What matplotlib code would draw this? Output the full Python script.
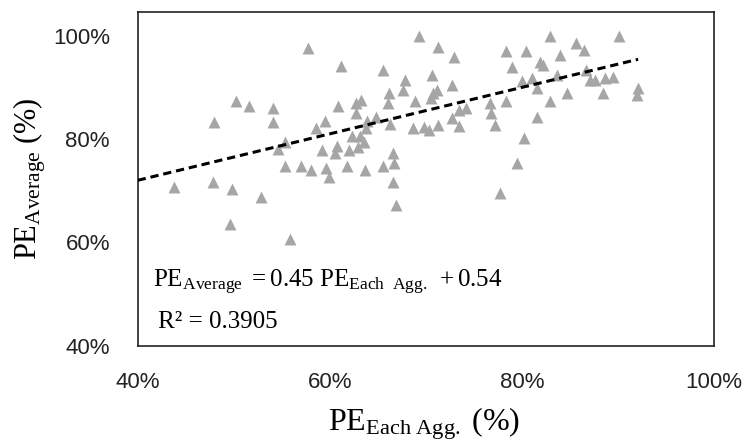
import matplotlib
matplotlib.use("Agg")
import matplotlib.pyplot as plt
import numpy as np

plt.rcParams["mathtext.fontset"] = "custom"
plt.rcParams["mathtext.rm"] = "Liberation Serif"
plt.rcParams["mathtext.it"] = "Liberation Serif:italic"

# PE of each aggregate (x) vs average PE (y), fractions
pe_each = [0.438, 0.479, 0.478, 0.498, 0.496, 0.502, 0.516, 0.528, 0.541, 0.541,
           0.546, 0.553, 0.553, 0.559, 0.570, 0.577, 0.580, 0.586, 0.595, 0.592,
           0.596, 0.599, 0.605, 0.607, 0.609, 0.612, 0.618, 0.620, 0.623, 0.627,
           0.627, 0.631, 0.629, 0.633, 0.636, 0.637, 0.638, 0.639, 0.648, 0.655,
           0.655, 0.661, 0.662, 0.663, 0.666, 0.666, 0.667, 0.669, 0.678, 0.676,
           0.687, 0.689, 0.693, 0.698, 0.703, 0.705, 0.706, 0.707, 0.712, 0.713,
           0.713, 0.727, 0.727, 0.729, 0.735, 0.735, 0.742, 0.767, 0.768, 0.772,
           0.777, 0.783, 0.783, 0.790, 0.795, 0.800, 0.802, 0.804, 0.810, 0.816,
           0.816, 0.819, 0.822, 0.829, 0.829, 0.837, 0.840, 0.847, 0.856, 0.865,
           0.867, 0.871, 0.876, 0.884, 0.886, 0.895, 0.901, 0.921, 0.920]
pe_avg = [0.707, 0.832, 0.717, 0.704, 0.635, 0.874, 0.864, 0.688, 0.860, 0.832,
          0.781, 0.795, 0.748, 0.607, 0.748, 0.976, 0.739, 0.821, 0.835, 0.779,
          0.744, 0.727, 0.772, 0.787, 0.864, 0.942, 0.748, 0.779, 0.805, 0.869,
          0.850, 0.805, 0.785, 0.876, 0.795, 0.740, 0.821, 0.834, 0.843, 0.748,
          0.934, 0.869, 0.889, 0.830, 0.772, 0.717, 0.754, 0.672, 0.915, 0.895,
          0.821, 0.873, 1.000, 0.824, 0.817, 0.879, 0.924, 0.889, 0.895, 0.827,
          0.979, 0.905, 0.840, 0.959, 0.825, 0.856, 0.860, 0.869, 0.850, 0.827,
          0.695, 0.970, 0.873, 0.940, 0.754, 0.913, 0.801, 0.970, 0.918, 0.843,
          0.898, 0.950, 0.944, 1.000, 0.873, 0.924, 0.963, 0.889, 0.986, 0.973,
          0.934, 0.915, 0.915, 0.889, 0.918, 0.921, 1.000, 0.898, 0.885]

slope = 0.45
intercept = 0.54
r2 = 0.3905
fit_x = [0.40, 0.921]

x_ticks = [0.4, 0.6, 0.8, 1.0]
y_ticks = [0.4, 0.6, 0.8, 1.0]

fig = plt.figure(figsize=(7.47, 4.47), dpi=100)
ax = fig.add_axes([137.7 / 747, 1 - 345.5 / 447, (714 - 137.7) / 747, (345.5 - 11.5) / 447])

ax.scatter(pe_each, pe_avg, marker="^", s=74, color="#a6a6a6", linewidths=0, zorder=2)
fx = np.array(fit_x)
ax.plot(fx, slope * fx + intercept, color="black", lw=2.2, dashes=(2.7, 1.6), zorder=3)

ax.set_xlim(0.4, 1.0)
ax.set_ylim(0.4, 1.047)
ax.set_xticks(x_ticks)
ax.set_yticks(y_ticks)
ax.set_xticklabels(["%d%%" % round(v * 100) for v in x_ticks])
ax.set_yticklabels(["%d%%" % round(v * 100) for v in y_ticks])
ax.tick_params(length=0, labelsize=16, colors="#222222")
ax.tick_params(axis="x", pad=19)
ax.tick_params(axis="y", pad=20)
for lab in ax.get_xticklabels() + ax.get_yticklabels():
    lab.set_family("Liberation Sans")
for sp in ax.spines.values():
    sp.set_linewidth(1.2)
    sp.set_color("#222222")

fig.text(424 / 747, 1 - 424 / 447, r"$\mathrm{PE}_{\mathrm{Each\ Agg.}}\ (\%)$",
         fontsize=23, ha="center", va="center")
fig.text(30 / 747, 1 - 179 / 447, r"$\mathrm{PE}_{\mathrm{Average}}\ (\%)$",
         fontsize=22, ha="center", va="center", rotation=90)

ax.text(0.0265, 0.175,
        r"$\mathrm{PE}_{\mathrm{Average}}\ = 0.%d\ \mathrm{PE}_{\mathrm{Each\ \ Agg.}}\ + 0.%d$"
        % (round(slope * 100), round(intercept * 100)),
        transform=ax.transAxes, fontsize=18, va="baseline", ha="left")
ax.text(0.035, 0.052, "R\u00b2 = %.4f" % r2, family="Liberation Serif",
        transform=ax.transAxes, fontsize=18, va="baseline", ha="left")

fig.savefig("out.png", dpi=100)
